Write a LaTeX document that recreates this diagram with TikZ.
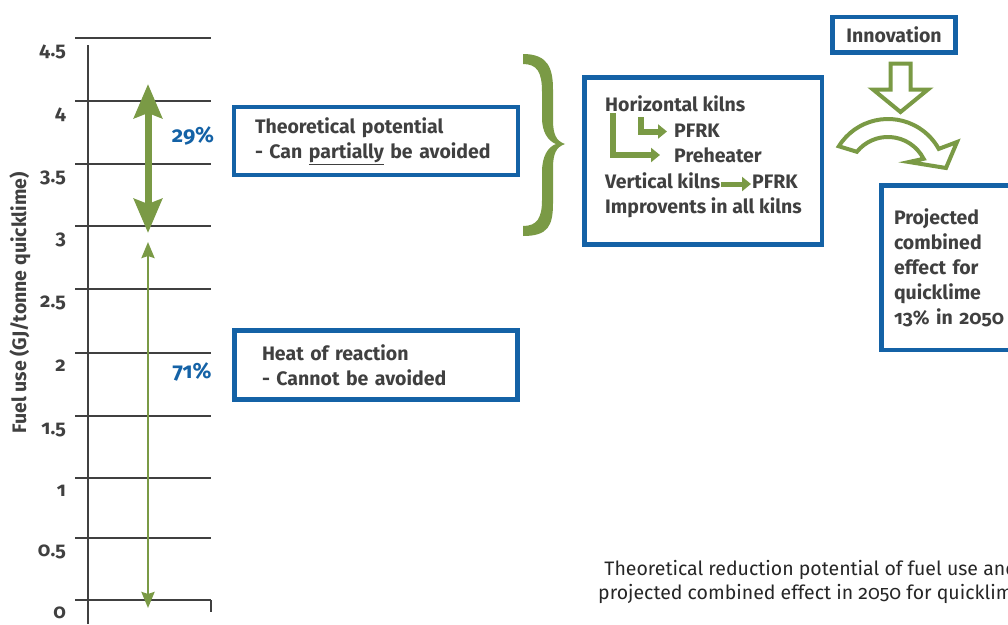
\documentclass[tikz,border=0pt]{standalone}
\usepackage{fontspec}
\setmainfont{Fira Sans}[Numbers=OldStyle]
\usepackage{xcolor}
\usetikzlibrary{arrows.meta,positioning}

\definecolor{reportblue}{HTML}{1462A6}
\definecolor{reportgreen}{HTML}{7A9A45}
\definecolor{textgray}{HTML}{404040}

\begin{document}
\begin{tikzpicture}[x=1pt, y=-1pt,
    every node/.style={font=\fontsize{19.5}{25}\selectfont\bfseries, text=textgray},
    box/.style={draw=reportblue, line width=4.5pt, rectangle, outer sep=0pt, align=left},
    gridline/.style={draw=textgray, line width=1.8pt},
    kilntext/.style={anchor=base west, inner sep=1pt},
    kilnarrow/.style={draw=reportgreen, line width=6pt, line join=miter, -{Triangle[length=9pt,width=14pt]}},
    hollowarrow/.style={draw=reportgreen, line width=4pt, fill=white, line join=miter},
    percent/.style={text=reportblue, font=\fontsize{22}{24}\selectfont\bfseries}]
    \useasboundingbox (0,0) rectangle (1008,624);
    \clip (0,0) rectangle (1008,624);

    % Axis and grid
    \draw[gridline] (88,45) -- (88,624);
    \foreach \v/\y in {0/600, 0.5/538, 1/478, 1.5/416, 2/353, 2.5/289, 3/226, 3.5/164, 4/101, 4.5/38} {
        \draw[gridline] (75,\y) -- (211,\y);
        \node[anchor=base east, inner sep=0pt, font=\fontsize{20}{24}\selectfont\bfseries] (tick\v) at (66,\y+18) {\v};
    }
    \draw[gridline] (211,600) -- (211,612);
    \node[rotate=90] (ylabel) at (20,303) {Fuel use (GJ/tonne quicklime)};

    % Arrows on the axis
    \coordinate (top29) at (148,84);
    \coordinate (mid29) at (148,233);
    \coordinate (top71) at (148,242);
    \coordinate (bot71) at (148,608);
    \draw[reportgreen, line width=7pt, {Stealth[length=34pt,width=28pt,inset=5pt]}-{Stealth[length=34pt,width=28pt,inset=5pt]}] (top29) -- (mid29);
    \draw[reportgreen, line width=2.5pt, {Stealth[length=16pt,width=13pt,inset=2pt]}-{Stealth[length=16pt,width=13pt,inset=2pt]}] (top71) -- (bot71);
    \node[percent] (p29) at (193,136) {29\%};
    \node[percent] (p71) at (192,372) {71\%};

    % Boxes
    \node[box, minimum width=284pt, minimum height=68pt, text width=242pt, inner xsep=21pt] (potential) at (376,141)
        {Theoretical potential\\- Can \underline{partially} be avoided};
    \node[box, minimum width=283pt, minimum height=69pt, text width=228pt, inner xsep=27.5pt] (reaction) at (376,365)
        {Heat of reaction\\- Cannot be avoided};

    % Brace
    \fill[reportgreen] (523,54) .. controls (548,54) and (553,68) .. (553,90) -- (553,120)
        .. controls (553,134) and (556,141) .. (565,144) .. controls (556,147) and (553,154) .. (553,168)
        -- (553,203) .. controls (553,226) and (548,236) .. (523,236) -- (523,226)
        .. controls (537,226) and (542,218) .. (542,200) -- (542,172)
        .. controls (542,156) and (548,147) .. (556,144) .. controls (548,141) and (542,132) .. (542,118)
        -- (542,92) .. controls (542,72) and (537,64) .. (523,64) -- cycle;

    % Kilns box
    \node[box, minimum width=237.5pt, minimum height=167pt] (kilns) at (703.25,161) {};
    \node[kilntext] (horiz) at (604,111) {Horizontal kilns};
    \node[kilntext] (pfrk1) at (673,137) {PFRK};
    \node[kilntext] (preheat) at (673,162) {Preheater};
    \node[kilntext] (vert) at (604,188) {Vertical kilns};
    \node[kilntext] (pfrk2) at (751,188) {PFRK};
    \node[kilntext] (allkilns) at (604,213) {Improvents in all kilns};
    \draw[kilnarrow] (612.5,113) |- (660,155);
    \draw[kilnarrow] (641,117) |- (667,131.5);
    \draw[kilnarrow, line width=5pt] ([yshift=4pt]vert.base east) -- ([yshift=4pt]pfrk2.base west);

    % Innovation
    \node[box, minimum width=123pt, minimum height=35.5pt, align=center] (innov) at (894,34.75) {Innovation};
    \draw[hollowarrow] (890.5,63.5) -- (910.5,63.5) -- (910.5,89.5) -- (928,89.5) -- (900.5,112)
        -- (873,89.5) -- (890.5,89.5) -- cycle;
    \draw[hollowarrow] (888,177) ++(-148:58) arc[start angle=-148, end angle=-29, radius=58]
        -- (957,142) -- (946,168) -- (909,162) -- (923.6,158.8)
        arc[start angle=-27, end angle=-141, radius=40] -- cycle;

    % Result
    \node[box, anchor=north west, minimum height=164.5pt, text width=140pt, inner xsep=12.5pt] (result) at (881.5,185.5)
        {Projected\\combined\\effect for\\quicklime\\13\% in 2050};

    % Caption
    \node[anchor=north west, inner sep=0pt, align=center, text=black!85, font=\fontsize{19.5}{24}\selectfont] (caption) at (598,560)
        {Theoretical reduction potential of fuel use and\\projected combined effect in 2050 for quicklime};
\end{tikzpicture}
\end{document}
